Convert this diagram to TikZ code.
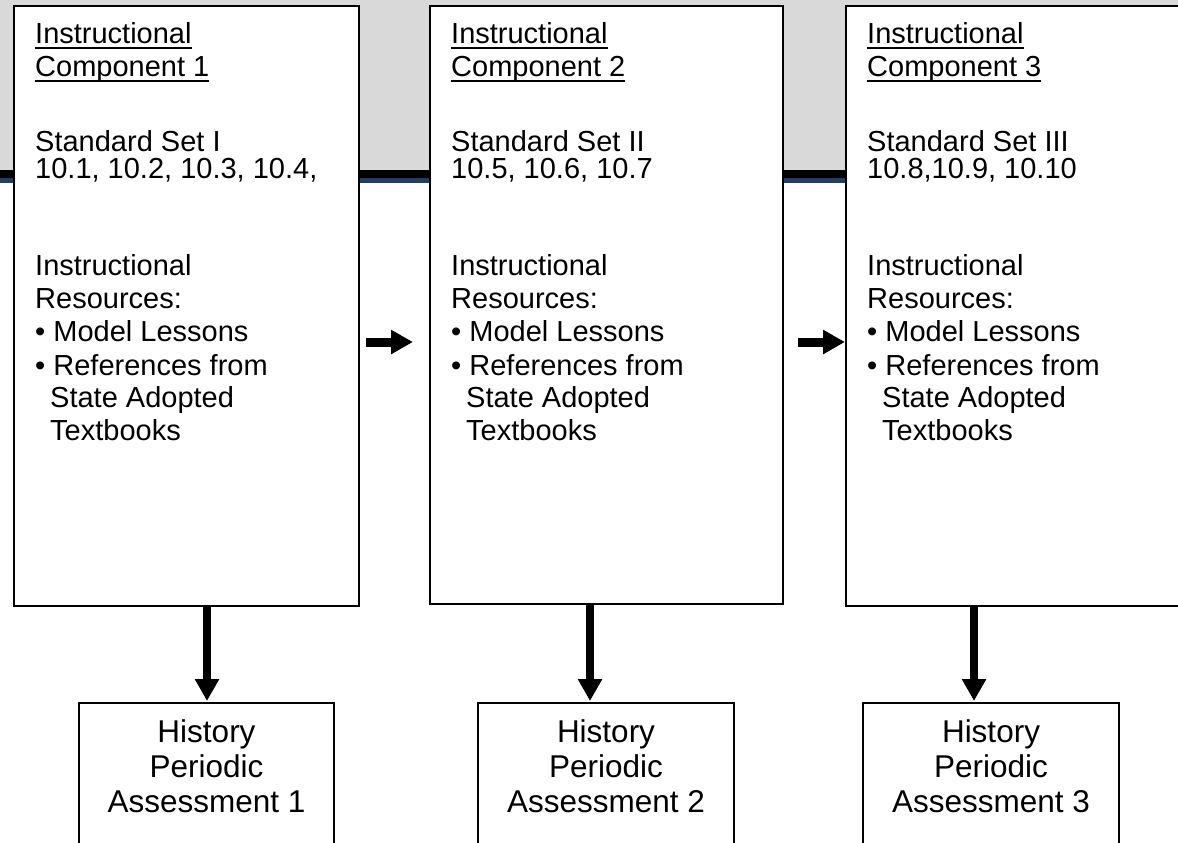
\documentclass[tikz,border=0pt]{standalone}
\usepackage{fontspec}
\setmainfont{Liberation Sans}
\usetikzlibrary{arrows.meta,calc}
\definecolor{bandgray}{RGB}{217,217,217}
\definecolor{bandblue}{RGB}{36,62,99}
\newcommand\myul[1]{\setbox0\hbox{#1}\rlap{\rule[-5pt]{\wd0}{2.2pt}}\box0}
\newcommand\compText[4]{%
 \node[txt] (t#2a) at (#1,44) {\myul{Instructional}};
 \node[txt] (t#2b) at (#1,77) {\myul{Component #2}};
 \node[txt] (t#2c) at (#1,151) {Standard Set #3};
 \node[txt] (t#2d) at (#1,178) {#4};
 \node[txt] (t#2e) at (#1,275) {Instructional};
 \node[txt] (t#2f) at (#1,308) {Resources:};
 \node[txt] (t#2g) at (#1,341) {• Model Lessons};
 \node[txt] (t#2h) at (#1,375) {• References from};
 \node[txt] (t#2i) at (#1+15,407) {State Adopted};
 \node[txt] (t#2j) at (#1+15,440) {Textbooks};
}
\newcommand\assText[2]{%
 \node[btxt] (h#2a) at ([yshift=-40pt]#1.north) {History};
 \node[btxt] (h#2b) at ([yshift=-75pt]#1.north) {Periodic};
 \node[btxt] (h#2c) at ([yshift=-110pt]#1.north) {Assessment #2};
}
\begin{document}
\begin{tikzpicture}[x=1pt,y=-1pt,
  compbox/.style={draw=black,fill=white,line width=2pt,anchor=north west,inner sep=0pt},
  assbox/.style={draw=black,fill=white,line width=2pt,anchor=north west,inner sep=0pt,minimum width=256pt,minimum height=170pt},
  txt/.style={anchor=base west,inner sep=0pt,font=\fontsize{29}{33}\selectfont},
  btxt/.style={anchor=base,inner sep=0pt,font=\fontsize{31.5}{35}\selectfont},
  harrow/.style={line width=9pt,-{Triangle[length=22pt,width=23pt]}},
  varrow/.style={line width=8.5pt,-{Triangle[length=22pt,width=23pt]},shorten >=1pt}]
\useasboundingbox (0,0) rectangle (1178,843);
\clip (0,0) rectangle (1178,843);
\fill[white] (0,0) rectangle (1178,843);
% top band
\fill[bandgray] (0,0) rectangle (1178,170);
\fill[black] (0,170) rectangle (1178,178);
\fill[bandblue] (0,178) rectangle (1178,183);
% component boxes
\node[compbox,minimum width=345pt,minimum height=600pt] (c1) at (13,5) {};
\node[compbox,minimum width=353pt,minimum height=598pt] (c2) at (429,5) {};
\node[compbox,minimum width=360pt,minimum height=600pt] (c3) at (845,5) {};
\compText{35}{1}{I}{10.1, 10.2, 10.3, 10.4,}
\compText{451}{2}{II}{10.5, 10.6, 10.7}
\compText{867}{3}{III}{10.8,10.9, 10.10}
% assessment boxes
\node[assbox,minimum width=255pt] (a1) at (78,702) {};
\node[assbox] (a2) at (477,702) {};
\node[assbox] (a3) at (862,702) {};
\assText{a1}{1}
\assText{a2}{2}
\assText{a3}{3}
% horizontal arrows
\coordinate (h1s) at (366,342);
\coordinate (h1e) at (413,342);
\coordinate (h2s) at (798,342);
\draw[harrow] (h1s) -- (h1e);
\draw[harrow] (h2s) -- (c3.west |- h2s);
% vertical arrows
\coordinate (x1) at (207,0);
\coordinate (x2) at (590,0);
\coordinate (x3) at (974,0);
\draw[varrow] (c1.south -| x1) -- (a1.north -| x1);
\draw[varrow] (c2.south -| x2) -- (a2.north -| x2);
\draw[varrow] (c3.south -| x3) -- (a3.north -| x3);
\end{tikzpicture}
\end{document}
